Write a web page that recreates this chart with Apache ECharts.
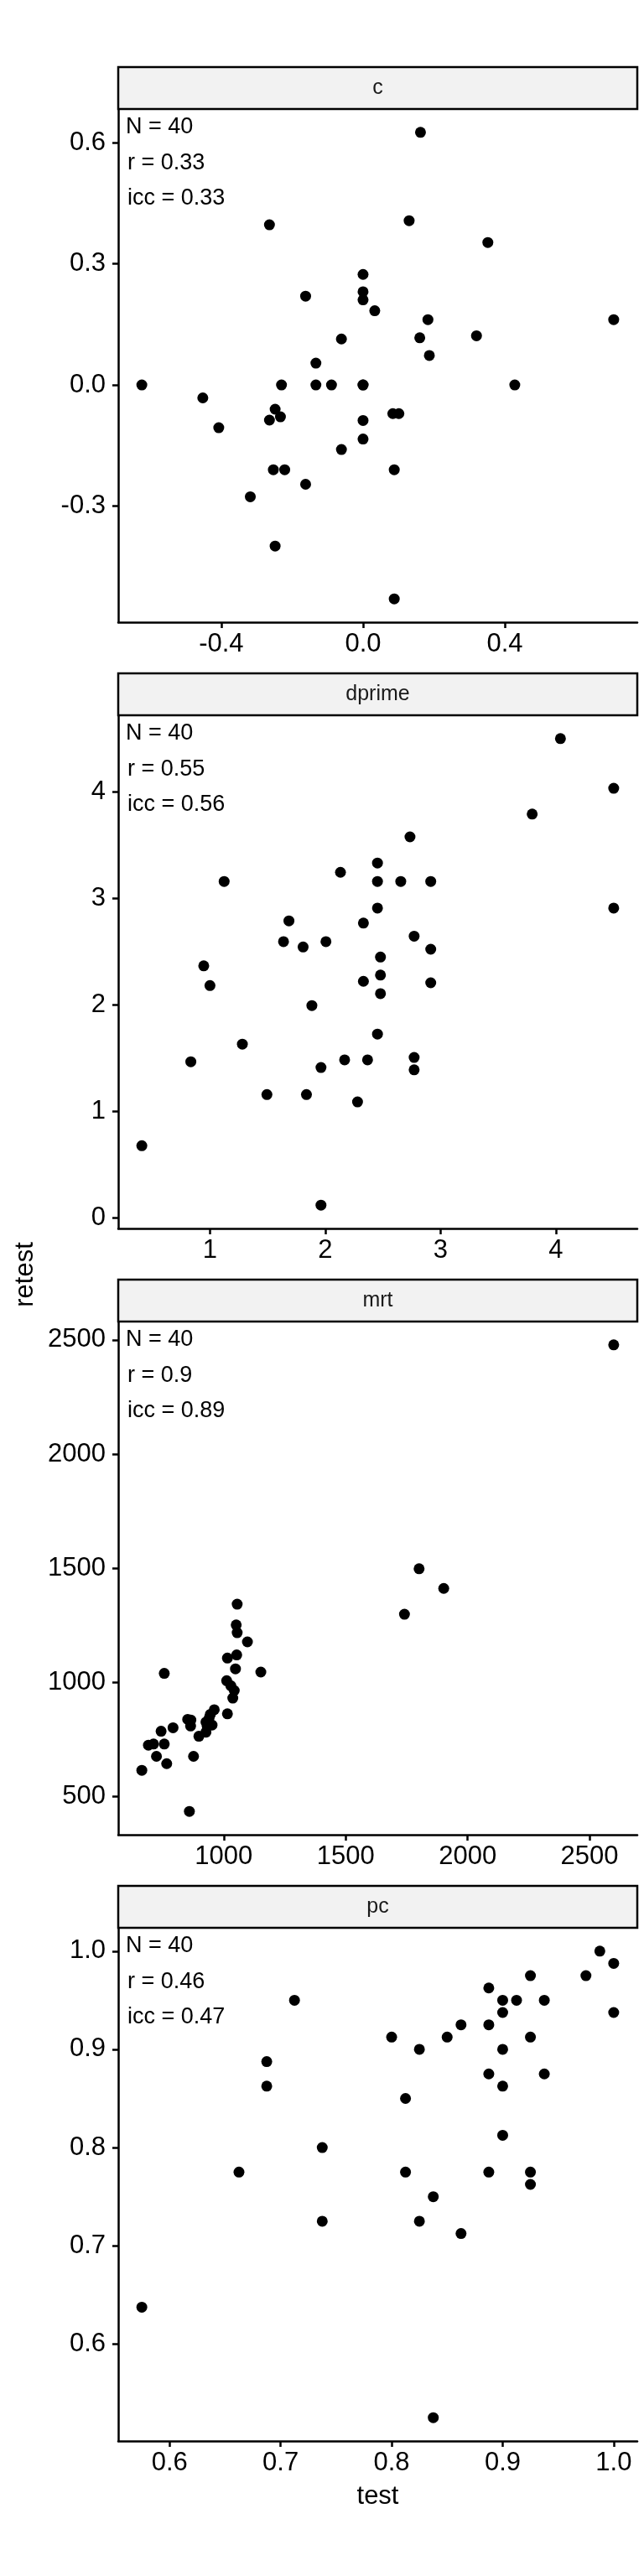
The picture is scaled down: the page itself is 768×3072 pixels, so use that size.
<!DOCTYPE html>
<html>
<head>
<meta charset="utf-8">
<script src="https://cdn.jsdelivr.net/npm/echarts@6/dist/echarts.min.js"></script>
<style>
  html, body { margin: 0; padding: 0; background: #fff; }
  #chart { width: 768px; height: 3072px; }
</style>
</head>
<body>
<div id="chart"></div>
<script>
// facet names
const panelNames = ['c', 'dprime', 'mrt', 'pc'];

// c
const cTest = [-0.624, -0.452, -0.407, -0.318, -0.264, -0.264, -0.248, -0.233, -0.230, -0.253,
  -0.221, -0.248, -0.162, -0.162, -0.133, -0.133, -0.089, -0.061, -0.061, 0,
  0, 0, 0.033, 0, 0, 0, 0.084, 0.101, 0.088, 0.088,
  0.162, 0.130, 0.160, 0.183, 0.187, 0.320, 0.352, 0.428, 0.707, 0];
const cRetest = [0, -0.032, -0.106, -0.277, 0.397, -0.087, -0.060, -0.079, 0, -0.210,
  -0.210, -0.399, 0.220, -0.246, 0.054, 0, 0, 0.114, -0.160, 0.274,
  0.231, 0.211, 0.184, 0, -0.088, -0.134, -0.071, -0.071, -0.210, -0.530,
  0.626, 0.407, 0.117, 0.162, 0.073, 0.122, 0.353, 0, 0.162, 0];

// dprime
const dTest = [0.409, 0.834, 0.946, 1.0, 1.123, 1.281, 1.494, 1.638, 1.685, 1.808,
  1.837, 1.884, 1.963, 1.963, 2.006, 2.132, 2.168, 2.280, 2.331, 2.331,
  2.367, 2.453, 2.453, 2.453, 2.479, 2.479, 2.479, 2.453, 2.655, 2.735,
  2.771, 2.771, 2.771, 2.915, 2.915, 2.915, 3.795, 4.040, 4.502, 4.502];
const dRetest = [0.677, 1.466, 2.367, 2.182, 3.160, 1.632, 1.158, 2.595, 2.790, 2.544,
  1.158, 1.994, 1.412, 0.119, 2.595, 3.246, 1.484, 1.089, 2.769, 2.222,
  1.484, 3.333, 3.160, 2.910, 2.450, 2.280, 2.106, 1.726, 3.160, 3.579,
  2.646, 1.506, 1.390, 3.160, 2.523, 2.208, 3.793, 4.502, 4.035, 2.910];

// mrt
const mTest = [664, 691, 712, 724, 743, 756, 756, 766, 792, 859,
  852, 865, 864, 876, 898, 927, 927, 937, 952, 945,
  961, 932, 1015, 1012, 1029, 1043, 1037, 1015, 1053, 1048,
  1051, 1055, 1055, 1097, 1152, 1741, 1801, 1902, 2599, 940];
const mRetest = [616, 726, 731, 677, 787, 731, 1040, 645, 802, 436,
  839, 836, 810, 677, 765, 783, 827, 814, 814, 861,
  881, 809, 863, 1008, 986, 965, 932, 1107, 1121, 1060,
  1252, 1218, 1343, 1178, 1046, 1299, 1498, 1412, 2478, 845];

// pc
const pTest = [0.575, 0.6625, 0.6875, 0.6875, 0.7125, 0.7375, 0.7375, 0.8, 0.8125, 0.8125,
  0.825, 0.825, 0.8375, 0.8375, 0.85, 0.8625, 0.8625, 0.8875, 0.8875, 0.8875,
  0.8875, 0.9, 0.9, 0.9, 0.9, 0.9, 0.9125, 0.925, 0.925, 0.925,
  0.925, 0.9375, 0.9375, 0.975, 0.9875, 1.0, 1.0];
const pRetest = [0.6375, 0.775, 0.8875, 0.8625, 0.95, 0.8, 0.725, 0.9125, 0.85, 0.775,
  0.9, 0.725, 0.75, 0.525, 0.9125, 0.925, 0.7125, 0.9625, 0.925, 0.875,
  0.775, 0.95, 0.9375, 0.9, 0.8625, 0.8125, 0.95, 0.975, 0.9125, 0.775,
  0.7625, 0.95, 0.875, 0.975, 1.0, 0.9875, 0.9375];

// tick values
const cXTicks = [-0.4, 0.0, 0.4];
const cYTicks = [-0.3, 0.0, 0.3, 0.6];
const dXTicks = [1, 2, 3, 4];
const dYTicks = [0, 1, 2, 3, 4];
const mXTicks = [1000, 1500, 2000, 2500];
const mYTicks = [500, 1000, 1500, 2000, 2500];
const pXTicks = [0.6, 0.7, 0.8, 0.9, 1.0];
const pYTicks = [0.6, 0.7, 0.8, 0.9, 1.0];

// annotation text
const statN = ['40', '40', '40', '40'];
const statR = ['0.33', '0.55', '0.9', '0.46'];
const statIcc = ['0.33', '0.56', '0.89', '0.47'];

const panels = [
  { x: cTest, y: cRetest, xt: cXTicks, yt: cYTicks, dec: 1 },
  { x: dTest, y: dRetest, xt: dXTicks, yt: dYTicks, dec: 0 },
  { x: mTest, y: mRetest, xt: mXTicks, yt: mYTicks, dec: 0 },
  { x: pTest, y: pRetest, xt: pXTicks, yt: pYTicks, dec: 1 }
];

const FONT = '"Liberation Sans", Arial, sans-serif';
const plotLeft = 141, plotWidth = 619;
const firstTop = 130, step = 723, plotHeight = 612, stripH = 50;

function expand(arr) {
  const lo = Math.min(...arr), hi = Math.max(...arr);
  const pad = (hi - lo) * 0.05;
  return [lo - pad, hi + pad];
}

function axisStyle(ticks, dec, isX) {
  return {
    axisLine: { show: true, onZero: false, lineStyle: { color: '#000', width: 2.5 } },
    axisTick: { show: true, inside: false, length: 7, customValues: ticks, lineStyle: { color: '#000', width: 2.5 } },
    axisLabel: {
      show: true, customValues: ticks, color: '#000', fontSize: 31, fontFamily: FONT,
      margin: isX ? 11 : 15,
      formatter: v => Number(v).toFixed(dec)
    },
    splitLine: { show: false }
  };
}

const grids = [], xAxes = [], yAxes = [], series = [], graphics = [];

panels.forEach((p, i) => {
  const top = firstTop + i * step;
  grids.push({ left: plotLeft, width: plotWidth, top: top, height: plotHeight, containLabel: false });
  const xr = expand(p.x), yr = expand(p.y);
  xAxes.push(Object.assign({ type: 'value', gridIndex: i, min: xr[0], max: xr[1] }, axisStyle(p.xt, p.dec, true)));
  yAxes.push(Object.assign({ type: 'value', gridIndex: i, min: yr[0], max: yr[1] }, axisStyle(p.yt, p.dec, false)));
  series.push({
    type: 'scatter', xAxisIndex: i, yAxisIndex: i,
    symbol: 'circle', symbolSize: 13,
    itemStyle: { color: '#000', opacity: 1 },
    data: p.x.map((v, k) => [v, p.y[k]]),
    silent: true
  });

  // facet strip
  graphics.push({
    type: 'rect',
    shape: { x: plotLeft, y: top - stripH, width: plotWidth, height: stripH },
    style: { fill: '#f2f2f2', stroke: '#000', lineWidth: 2.5 }
  });
  graphics.push({
    type: 'text', x: plotLeft + plotWidth / 2, y: top - stripH / 2,
    style: { text: panelNames[i], fill: '#1a1a1a', font: '25px ' + FONT, textAlign: 'center', textVerticalAlign: 'middle' }
  });

  // stats annotation
  const lines = ['N = ' + statN[i], 'r = ' + statR[i], 'icc = ' + statIcc[i]];
  const offs = [22, 65, 107];
  lines.forEach((t, k) => {
    graphics.push({
      type: 'text', x: plotLeft + 9 + (k > 0 ? 2 : 0), y: top + offs[k],
      style: { text: t, fill: '#000', font: '27px ' + FONT, textAlign: 'left', textVerticalAlign: 'middle' }
    });
  });
});

// axis titles
const lastAxis = firstTop + 3 * step + plotHeight;
graphics.push({
  type: 'text', x: plotLeft + plotWidth / 2, y: lastAxis + 66,
  style: { text: 'test', fill: '#000', font: '31px ' + FONT, textAlign: 'center', textVerticalAlign: 'middle' }
});
graphics.push({
  type: 'text', x: 30, y: 1520, rotation: Math.PI / 2,
  style: { text: 'retest', fill: '#000', font: '31px ' + FONT, textAlign: 'center', textVerticalAlign: 'middle' }
});

const chart = echarts.init(document.getElementById('chart'), null, { renderer: 'canvas' });
chart.setOption({
  animation: false,
  backgroundColor: '#fff',
  grid: grids,
  xAxis: xAxes,
  yAxis: yAxes,
  series: series,
  graphic: graphics
});
</script>
</body>
</html>
